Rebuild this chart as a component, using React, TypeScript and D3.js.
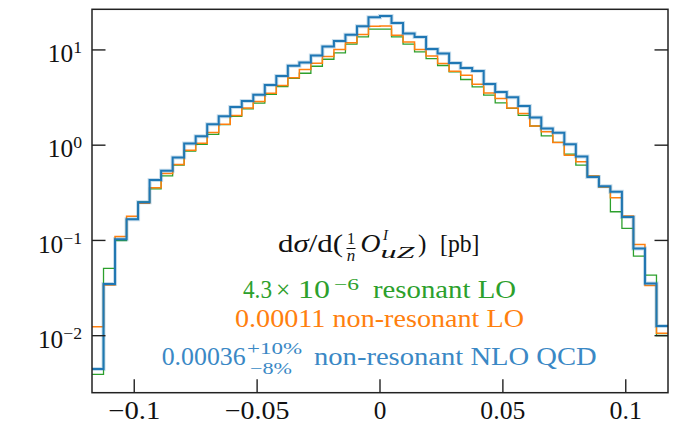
import React from "react";
import * as d3 from "d3";

// Histogram binning (50 bins of width 0.0046875 from -0.1171875)
const BIN_START = -0.1171875;
const BIN_WIDTH = 0.0046875;

// Series values per bin [pb]
const resonantLO = [
  0.00393, 0.0509, 0.0996, 0.166, 0.254, 0.348, 0.476, 0.617, 0.865, 1.02,
  1.3, 1.64, 2.01, 2.4, 2.76, 3.41, 4.13, 5.02, 5.69, 6.74,
  7.98, 9.29, 11.5, 13.7, 16.5, 16.5, 13.7, 11.5, 9.52, 8.12,
  6.86, 5.87, 4.89, 4.09, 3.35, 2.78, 2.43, 2.06, 1.59, 1.25,
  1.07, 0.805, 0.617, 0.473, 0.365, 0.2, 0.134, 0.0685, 0.0433, 0.01004,
];
const nonResonantLO = [
  0.0124, 0.034, 0.11, 0.179, 0.246, 0.357, 0.505, 0.627, 0.886, 1.05,
  1.36, 1.66, 2.05, 2.46, 2.87, 3.51, 4.23, 5.11, 6.23, 7.25,
  8.52, 10.1, 11.9, 14.5, 17.7, 17.8, 14.3, 12.1, 10.1, 8.65,
  7.19, 5.97, 5.42, 4.36, 3.54, 3.09, 2.46, 2.15, 1.59, 1.38,
  1.07, 0.785, 0.668, 0.476, 0.363, 0.28, 0.181, 0.0908, 0.0336, 0.01059,
];
const nonResonantNLO = [
  0.00447, 0.0348, 0.103, 0.167, 0.252, 0.43, 0.54, 0.743, 1.04, 1.24,
  1.66, 2.01, 2.52, 2.91, 3.39, 4.29, 5.32, 6.82, 7.39, 8.73,
  10.85, 12.4, 14.4, 17.7, 22.0, 22.7, 19.2, 14.85, 13.7, 10.2,
  9.16, 7.3, 6.47, 6.02, 4.4, 3.62, 3.19, 2.58, 1.95, 1.5,
  1.35, 1.02, 0.761, 0.462, 0.371, 0.324, 0.176, 0.0821, 0.0354, 0.01263,
];

const xTicks = [-0.1, -0.05, 0, 0.05, 0.1];
const xTickLabels = ["\u22120.1", "\u22120.05", "0", "0.05", "0.1"];
const yTicks = [10, 1, 0.1, 0.01];
const yTickExps = ["1", "0", "\u22121", "\u22122"];

const W = 681;
const H = 424;
const L = 92;
const R = 668;
const T = 9.3;
const B = 392.7;

const FONT = "'Liberation Serif', 'Times New Roman', serif";
const GREEN = "#2ca02c";
const ORANGE = "#ff7f0e";
const BLUE = "#1f77b4";
const BLUE_TEXT = "#3a88c5";

// approximate em widths of the tick-label glyphs (for textLength)
const xLabelWidth = (s: string) =>
  Array.from(s).reduce((w, c) => w + (c === "\u2212" ? 0.778 : c === "." ? 0.278 : 0.5), 0);

export default function App() {
  const x = d3.scaleLinear().domain([BIN_START, -BIN_START]).range([L, R]);
  const y = d3.scaleLog().domain([0.00252, 26.7]).range([B, T]);

  const stepPath = (vals: number[]) => {
    const pts: [number, number][] = vals.map((v, i) => [BIN_START + i * BIN_WIDTH, v]);
    pts.push([BIN_START + vals.length * BIN_WIDTH, vals[vals.length - 1]]);
    return d3
      .line<[number, number]>()
      .x((d) => x(d[0]))
      .y((d) => y(d[1]))
      .curve(d3.curveStepAfter)(pts) as string;
  };

  const cx = x(0);
  const tickLen = 13.5;
  const FS = 25.3;

  return (
    <svg
      width={W}
      height={H}
      style={{ position: "absolute", left: 0, top: 0, background: "#fff" }}
      fontFamily={FONT}
    >
      <defs>
        <clipPath id="plot">
          <rect x={L} y={T} width={R - L} height={B - T} />
        </clipPath>
      </defs>
      <g clipPath="url(#plot)" fill="none" strokeLinejoin="miter">
        <path d={stepPath(resonantLO)} stroke={GREEN} strokeWidth={1.3} />
        <path d={stepPath(nonResonantLO)} stroke={ORANGE} strokeWidth={1.5} />
        <path d={stepPath(nonResonantNLO)} stroke={BLUE} strokeWidth={4} strokeOpacity={0.25} />
        <path d={stepPath(nonResonantNLO)} stroke={BLUE} strokeWidth={2} />
      </g>

      {/* frame */}
      <rect x={L} y={T} width={R - L} height={B - T} fill="none" stroke="#222" strokeWidth={1.5} />

      {/* x ticks */}
      {xTicks.map((t, i) => (
        <g key={"xt" + i}>
          <line x1={x(t)} x2={x(t)} y1={B} y2={B - tickLen} stroke="#222" strokeWidth={1.4} />
          <text
            x={x(t) - (xLabelWidth(xTickLabels[i]) * FS) / 2}
            y={419.3}
            fontSize={FS}
            fill="#111"
            textLength={xLabelWidth(xTickLabels[i]) * FS}
            lengthAdjust="spacingAndGlyphs"
          >
            {xTickLabels[i]}
          </text>
        </g>
      ))}

      {/* y ticks */}
      {yTicks.map((t, i) => (
        <g key={"yt" + i}>
          <line x1={L} x2={L + tickLen} y1={y(t)} y2={y(t)} stroke="#222" strokeWidth={1.4} />
          <line x1={R} x2={R - tickLen} y1={y(t)} y2={y(t)} stroke="#222" strokeWidth={1.4} />
          <text x={82} y={y(t) + 12.3} fontSize={FS} textAnchor="end" fill="#111">
            10
            <tspan fontSize={17.7} dy={-9}>
              {yTickExps[i]}
            </tspan>
          </text>
        </g>
      ))}

      {/* annotation: observable label */}
      <g fill="#111" fontSize={FS}>
        <text x={cx - 102} y={251.5} textLength={65} lengthAdjust="spacingAndGlyphs">
          d<tspan fontStyle="italic">σ</tspan>/d(
        </text>
        <text x={cx - 29} y={244} fontSize={16} textAnchor="middle">
          1
        </text>
        <line x1={cx - 33.5} x2={cx - 24.5} y1={248.5} y2={248.5} stroke="#111" strokeWidth={1} />
        <text x={cx - 29} y={260.5} fontSize={17} textAnchor="middle" fontStyle="italic">
          n
        </text>
        <text x={cx - 19.5} y={251.5} fontStyle="italic" textLength={20} lengthAdjust="spacingAndGlyphs">
          O
        </text>
        <text x={cx + 3} y={239.5} fontSize={15} fontStyle="italic">
          I
        </text>
        <text x={cx + 0.5} y={258} fontSize={17} fontStyle="italic" textLength={34} lengthAdjust="spacingAndGlyphs">
          uZ
        </text>
        <text x={cx + 38} y={251.5}>
          )
        </text>
        <text x={cx + 60} y={251.5} textLength={39.5} lengthAdjust="spacingAndGlyphs">
          [pb]
        </text>
      </g>

      {/* resonant LO */}
      <g fill={GREEN} fontSize={FS}>
        <text x={cx - 137} y={298.3} textLength={29} lengthAdjust="spacingAndGlyphs">
          4.3
        </text>
        <text x={cx - 104} y={298.3}>
          ×
        </text>
        <text x={cx - 82} y={298.3} textLength={32} lengthAdjust="spacingAndGlyphs">
          10
        </text>
        <text x={cx - 46} y={289.5} fontSize={17.7} textLength={25} lengthAdjust="spacingAndGlyphs">
          {"\u22126"}
        </text>
        <text x={cx - 7} y={298.3} textLength={143} lengthAdjust="spacingAndGlyphs">
          resonant LO
        </text>
      </g>

      {/* non-resonant LO */}
      <g fill={ORANGE} fontSize={FS}>
        <text x={cx - 145} y={326.7} textLength={289} lengthAdjust="spacingAndGlyphs">
          0.00011 non-resonant LO
        </text>
      </g>

      {/* non-resonant NLO QCD */}
      <g fill={BLUE_TEXT} fontSize={FS}>
        <text x={cx - 218.3} y={365} textLength={84} lengthAdjust="spacingAndGlyphs">
          0.00036
        </text>
        <text x={cx - 133} y={354} fontSize={17.7} textLength={55} lengthAdjust="spacingAndGlyphs">
          +10%
        </text>
        <text x={cx - 130} y={374} fontSize={17.7} textLength={42} lengthAdjust="spacingAndGlyphs">
          {"\u22128%"}
        </text>
        <text x={cx - 66} y={365} textLength={282.7} lengthAdjust="spacingAndGlyphs">
          non-resonant NLO QCD
        </text>
      </g>
    </svg>
  );
}
